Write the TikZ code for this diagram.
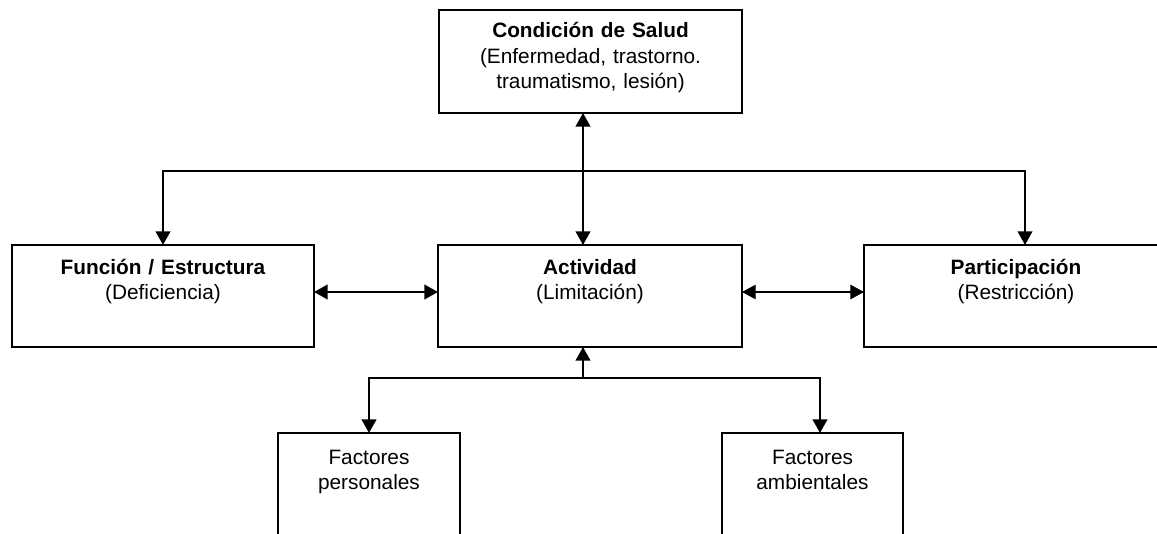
\documentclass[tikz,border=0pt]{standalone}
\usepackage{fontspec}
\setmainfont{Liberation Sans}
\usepackage{tikz}
\usetikzlibrary{arrows.meta}

\begin{document}
\begin{tikzpicture}
\tikzstyle{every node}=[font=\fontsize{14.8}{18}\selectfont]
\tikzstyle{caja}=[draw, line width=1.7pt, anchor=north, align=center, inner sep=0pt, outer sep=0pt, text height=0.725cm, text depth=1.825cm]
\tikzstyle{flecha}=[line width=1.9pt, >={Triangle[width=0.36cm,length=0.34cm]}]
\useasboundingbox (0,0) rectangle (28.925,13.325);
\clip (0,0) rectangle (28.925,13.325);
\node [caja, text width=7.575cm, text height=0.7cm, text depth=1.875cm] (salud) at (14.7625,13.075) {\textbf{Condición de Salud}\\(Enfermedad, trastorno.\\traumatismo, lesión)};
\node [caja, text width=7.55cm] (func) at (4.075,7.2) {\textbf{Función / Estructura}\\(Deficiencia)};
\node [caja, text width=7.6cm] (act) at (14.75,7.2) {\textbf{Actividad}\\(Limitación)};
\node [caja, text width=7.6cm] (part) at (25.4,7.2) {\textbf{Participación}\\(Restricción)};
\node [caja, text width=4.55cm, text height=0.775cm, text depth=3cm] (pers) at (9.225,2.5) {Factores\\personales};
\node [caja, text width=4.525cm, text height=0.775cm, text depth=3cm] (amb) at (20.3125,2.5) {Factores\\ambientales};
\coordinate (arriba) at (14.575,9.05);
\coordinate (abajo) at (14.575,3.875);
\draw [flecha, <->] (salud.south -| arriba) -- (act.north -| arriba);
\draw [flecha, ->] (arriba) -| (func.north);
\draw [flecha, ->] (arriba) -| ([xshift=0.225cm]part.north);
\draw [flecha, <->] ([yshift=0.1cm]func.east) -- ([yshift=0.1cm]act.west);
\draw [flecha, line width=0.8pt, <->] ([yshift=0.1cm]act.east) -- ([yshift=0.1cm]part.west);
\draw [flecha, ->] (abajo) -- (act.south -| abajo);
\draw [flecha, ->] (abajo) -| (pers.north);
\draw [flecha, ->] (abajo) -| ([xshift=0.1875cm]amb.north);
\end{tikzpicture}
\end{document}
